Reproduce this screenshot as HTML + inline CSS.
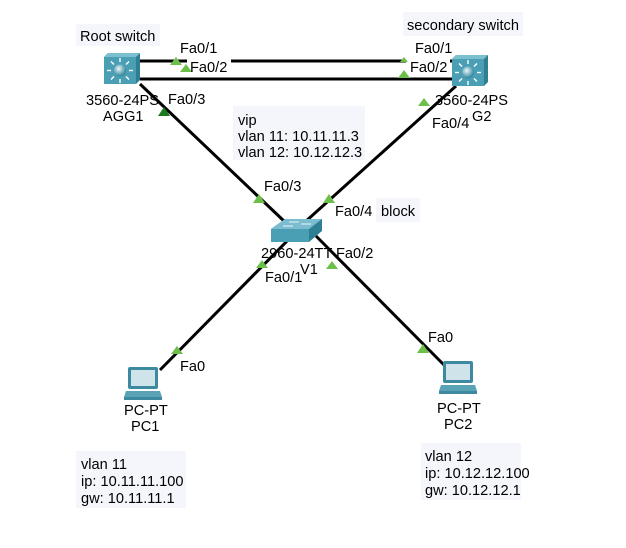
<!DOCTYPE html>
<html><head><meta charset="utf-8"><style>
body{margin:0;background:#fff;}
svg text{font-family:"Liberation Sans",Arial,sans-serif;font-size:14.6px;fill:#000;}
</style></head><body>
<svg width="626" height="543" viewBox="0 0 626 543" xmlns="http://www.w3.org/2000/svg">
<defs>
<radialGradient id="ball" cx="40%" cy="35%" r="60%"><stop offset="0" stop-color="#e8f6fa"/><stop offset="1" stop-color="#3a8aa0"/></radialGradient>
<g id="l3">
<polygon points="0,4 4,0 36,0 36,27 32,31 0,31" fill="#2f7f94"/>
<rect x="0" y="4" width="32" height="27" fill="#4a9fb4"/>
<polygon points="0,4 4,0 36,0 32,4" fill="#7cc0d0"/>
<circle cx="16" cy="17.5" r="6" fill="url(#ball)"/>
<g stroke="#fff" stroke-width="1.4">
<line x1="16" y1="5" x2="16" y2="9"/><line x1="16" y1="26" x2="16" y2="30"/>
<line x1="3" y1="17.5" x2="7" y2="17.5"/><line x1="25" y1="17.5" x2="29" y2="17.5"/>
<line x1="7" y1="8.5" x2="10" y2="11.5"/><line x1="25" y1="8.5" x2="22" y2="11.5"/>
<line x1="7" y1="26.5" x2="10" y2="23.5"/><line x1="25" y1="26.5" x2="22" y2="23.5"/>
</g></g>
<g id="pc">
<rect x="6" y="0" width="30" height="22" rx="2" fill="#3d8aa0"/>
<rect x="9" y="3" width="24" height="16" fill="#cfe3ea"/>
<polygon points="4,24 38,24 40,30 2,30" fill="#5aa2b5"/>
<rect x="2" y="30" width="38" height="3" fill="#3d8aa0"/>
</g>
</defs>
<rect x="76" y="24" width="84" height="22" fill="#f4f6fc"/>
<rect x="403" y="12" width="120" height="24" fill="#f4f6fc"/>
<rect x="233" y="106" width="132" height="54" fill="#f4f6fc"/>
<rect x="376" y="198" width="44" height="24" fill="#f4f6fc"/>
<rect x="76" y="451" width="110" height="57" fill="#f4f6fc"/>
<rect x="421" y="443" width="100" height="57" fill="#f4f6fc"/>
<g stroke="#000" stroke-width="3">
<line x1="140" y1="61" x2="455" y2="61"/>
<line x1="140" y1="79" x2="455" y2="79"/>
<line x1="140" y1="84" x2="285" y2="222"/>
<line x1="456" y1="86" x2="305" y2="222"/>
<line x1="292" y1="236" x2="160" y2="370"/>
<line x1="316" y1="236" x2="447" y2="368"/>
</g>
<rect x="187" y="58" width="44" height="16" fill="#fff"/>
<rect x="406" y="58" width="44" height="16" fill="#fff"/>
<g fill="#6cc04a">
<polygon points="176,57 170,65 182,65"/>
<polygon points="186,64 180,72 192,72"/>
<polygon points="404,70 398,78 410,78"/>
<polygon points="404,57 400,62 408,62"/>
<polygon points="424,98 418,106 430,106"/>
<polygon points="259,194 253,203 265,203"/>
<polygon points="329,194 323,203 335,203"/>
<polygon points="262,260 256,268 268,268"/>
<polygon points="332,261 326,269 338,269"/>
<polygon points="177,346 171,354 183,354"/>
<polygon points="423,344 417,353 429,353"/>
</g>
<polygon points="164,107 158,116 170,116" fill="#1c7a1c"/>
<use href="#l3" x="104" y="53"/>
<use href="#l3" x="452" y="55"/>
<g transform="translate(271,217)">
<polygon points="0,12 14,2 51,2 51,14 38,25 0,25" fill="#2f7f94"/>
<polygon points="0,12 14,2 51,2 38,12" fill="#7cbcd0"/>
<rect x="0" y="12" width="38" height="13" fill="#4a9fb4"/>
<g stroke="#e8f4f8" stroke-width="1"><line x1="18" y1="5" x2="28" y2="5"/><line x1="12" y1="9" x2="22" y2="9"/><line x1="30" y1="7" x2="40" y2="7"/></g>
</g>
<use href="#pc" x="122" y="367"/>
<use href="#pc" x="437" y="361"/>
<text x="80" y="41">Root switch</text>
<text x="407" y="30">secondary switch</text>
<text x="180" y="53">Fa0/1</text>
<text x="190" y="72">Fa0/2</text>
<text x="168" y="104">Fa0/3</text>
<text x="415" y="53">Fa0/1</text>
<text x="410" y="72">Fa0/2</text>
<text x="86" y="105">3560-24PS</text>
<text x="103" y="121">AGG1</text>
<text x="435" y="105">3560-24PS</text>
<text x="472" y="121">G2</text>
<text x="432" y="128">Fa0/4</text>
<text x="238" y="125">vip</text>
<text x="238" y="141">vlan 11: 10.11.11.3</text>
<text x="238" y="157">vlan 12: 10.12.12.3</text>
<text x="264" y="191">Fa0/3</text>
<text x="335" y="216">Fa0/4</text>
<text x="381" y="216">block</text>
<text x="261" y="258">2960-24TT</text>
<text x="336" y="258">Fa0/2</text>
<text x="300" y="274">V1</text>
<text x="265" y="282">Fa0/1</text>
<text x="180" y="371">Fa0</text>
<text x="428" y="342">Fa0</text>
<text x="124" y="415">PC-PT</text>
<text x="131" y="431">PC1</text>
<text x="437" y="413">PC-PT</text>
<text x="444" y="429">PC2</text>
<text x="81" y="469">vlan 11</text>
<text x="81" y="486">ip: 10.11.11.100</text>
<text x="81" y="503">gw: 10.11.11.1</text>
<text x="425" y="461">vlan 12</text>
<text x="425" y="478">ip: 10.12.12.100</text>
<text x="425" y="495">gw: 10.12.12.1</text>
</svg>
</body></html>
